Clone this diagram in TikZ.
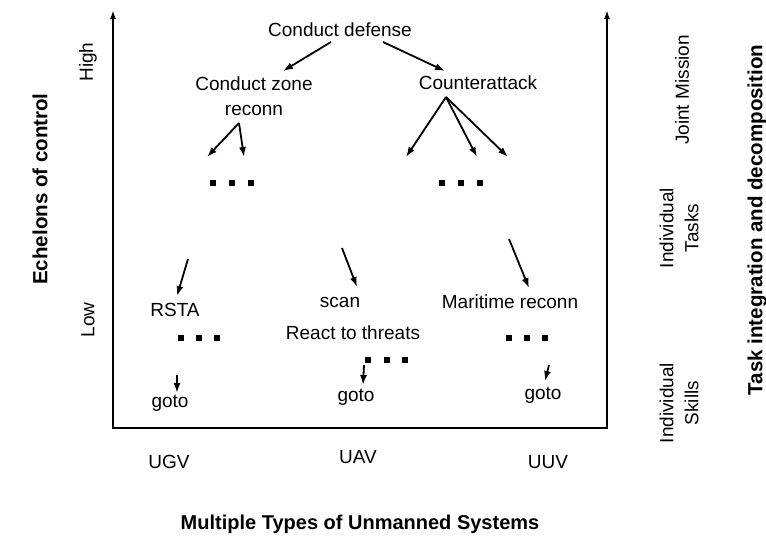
\documentclass[tikz,border=0pt]{standalone}
\usepackage{fontspec}
\setmainfont{Liberation Sans}
\usetikzlibrary{arrows.meta}
\begin{document}
\begin{tikzpicture}[x=1pt,y=-1pt,
  lbl/.style={font=\fontsize{19}{25}\selectfont, inner sep=0pt, align=center},
  blbl/.style={font=\fontsize{20}{24}\selectfont\bfseries, inner sep=0pt, align=center},
  arr/.style={line width=1.8pt, -{Latex[length=10pt,width=7pt]}},
  axis/.style={line width=2.4pt},
  sq/.style={fill=black, minimum size=6pt, inner sep=0pt, draw=none}]
\useasboundingbox (0,0) rectangle (766,539);
% axes
\coordinate (lt) at (113,10);
\coordinate (o) at (113,428);
\coordinate (rb) at (607,428);
\coordinate (rt) at (607,10);
\draw[axis, {Latex[length=9pt,width=6pt]}-{Latex[length=9pt,width=6pt]}] (lt) -- (o) -- (rb) -- (rt);
% axis labels
\node[blbl, rotate=90, font=\fontsize{20.5}{24}\selectfont\bfseries] (ech) at (40,189) {Echelons of control};
\node[lbl, rotate=90] (high) at (88,62) {High};
\node[lbl, rotate=90] (low) at (88,320) {Low};
\node[lbl, rotate=90] (jm) at (682,90) {Joint Mission};
\node[lbl, rotate=90] (it) at (679,228) {Individual\\Tasks};
\node[lbl, rotate=90] (is) at (679,403) {Individual\\Skills};
\node[blbl, rotate=90, font=\fontsize{20.5}{24}\selectfont\bfseries] (tid) at (757,220) {Task integration and decomposition};
\node[lbl] (ugv) at (169,462) {UGV};
\node[lbl] (uav) at (358,457) {UAV};
\node[lbl] (uuv) at (548,462) {UUV};
\node[blbl] (mt) at (360,524) {Multiple Types of Unmanned Systems};
% tree
\node[lbl] (cd) at (340,30) {Conduct defense};
\node[lbl] (czr) at (254,96) {Conduct zone\\reconn};
\node[lbl] (ca) at (478,83) {Counterattack};
\node[lbl] (rsta) at (175,310) {RSTA};
\node[lbl] (scan) at (340,302) {scan};
\node[lbl] (mr) at (510,302) {Maritime reconn};
\node[lbl] (rtt) at (353,333) {React to threats};
\node[lbl] (g1) at (170,403) {goto};
\node[lbl] (g2) at (356,397) {goto};
\node[lbl] (g3) at (543,395) {goto};
% dots
\foreach \x/\y [count=\i] in {213/183,232/183,251/183,442/183,461/183,480/183,
  181/338,199/338,217/338,368/360,387/360,405/360,509/338,527/338,545/338}
  \node[sq] (d\i) at (\x,\y) {};
% arrow coordinates
\coordinate (cdL) at (331,42);
\coordinate (cdR) at (383,42);
\coordinate (czrT) at (283,71);
\coordinate (caT) at (445,71);
\coordinate (zs) at (239,123);
\coordinate (z1) at (207,157);
\coordinate (z2) at (244,157);
\coordinate (cs) at (446,97);
\coordinate (c1) at (406,157);
\coordinate (c2) at (477,157);
\coordinate (c3) at (508,157);
\coordinate (r0) at (188,259);
\coordinate (r1) at (177,296);
\coordinate (s0) at (342,248);
\coordinate (s1) at (357,287);
\coordinate (m0) at (509,239);
\coordinate (m1) at (529,288);
\coordinate (ga0) at (177,375);
\coordinate (ga1) at (177,393);
\coordinate (gb0) at (364,365);
\coordinate (gb1) at (363,385);
\coordinate (gc0) at (549,365);
\coordinate (gc1) at (545,381);
\draw[arr] (cdL) -- (czrT);
\draw[arr] (cdR) -- (caT);
\draw[arr] (zs) -- (z1);
\draw[arr] (zs) -- (z2);
\draw[arr] (cs) -- (c1);
\draw[arr] (cs) -- (c2);
\draw[arr] (cs) -- (c3);
\draw[arr] (r0) -- (r1);
\draw[arr] (s0) -- (s1);
\draw[arr] (m0) -- (m1);
\draw[arr] (ga0) -- (ga1);
\draw[arr] (gb0) -- (gb1);
\draw[arr] (gc0) -- (gc1);
\end{tikzpicture}
\end{document}
